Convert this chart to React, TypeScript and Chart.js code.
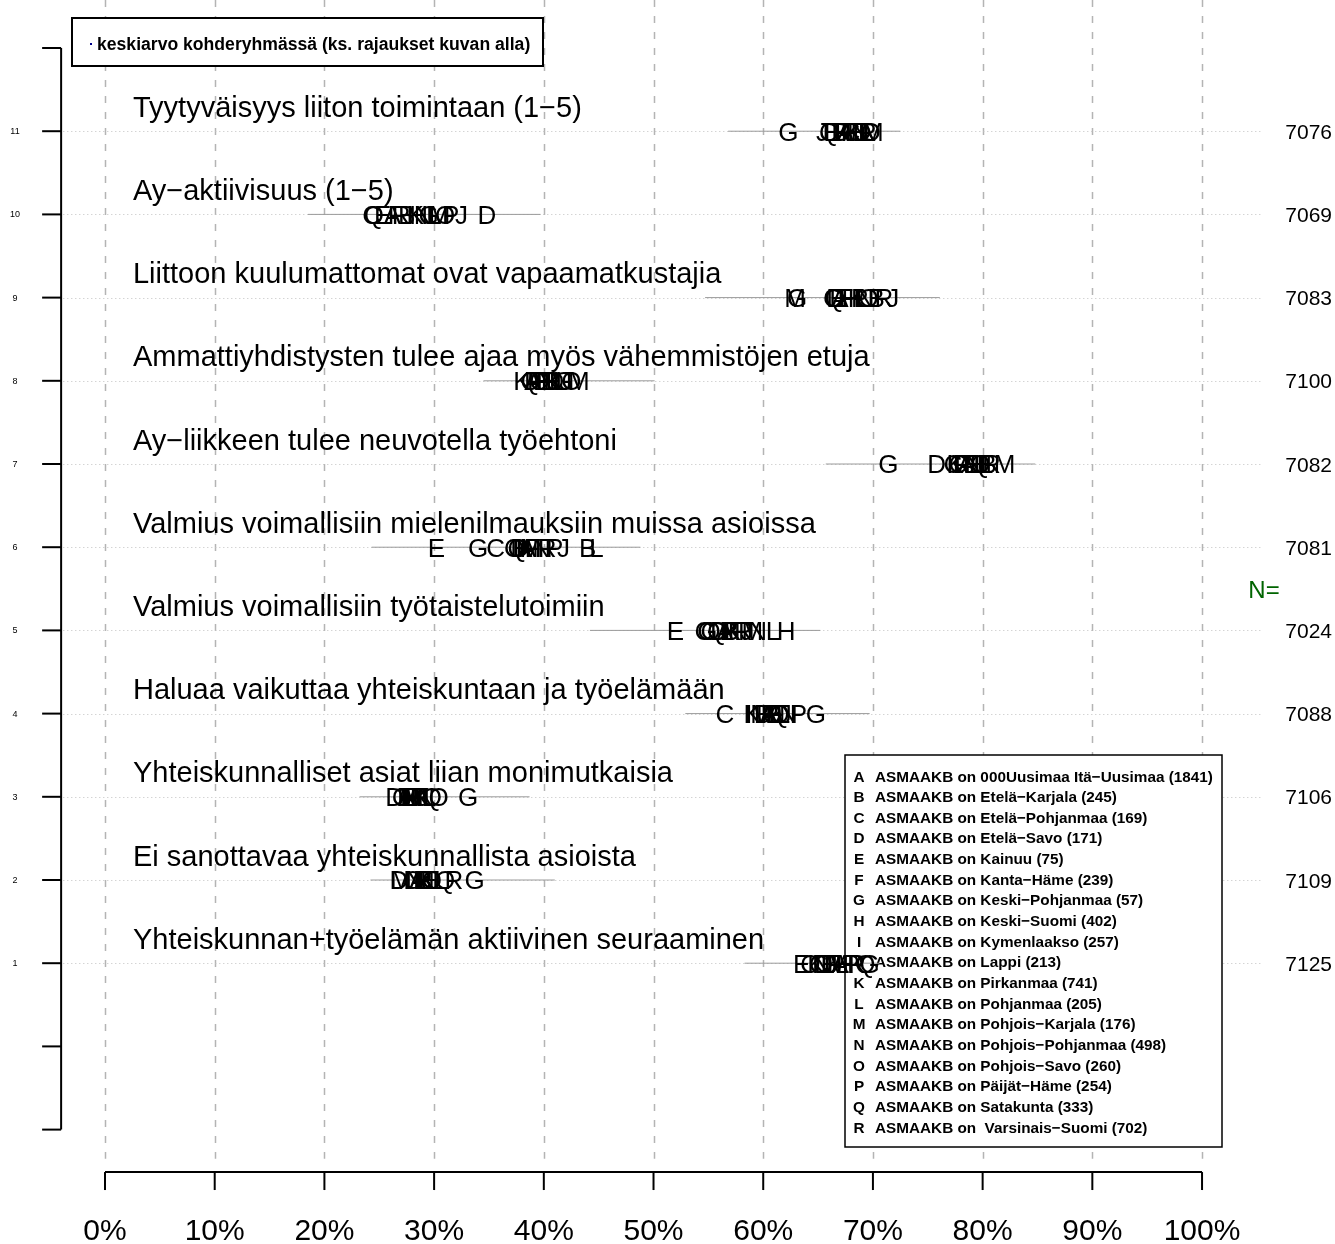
import React, { useEffect, useRef } from "react";
import { Chart, registerables } from "chart.js";
Chart.register(...registerables);

const groupLetters = ["A","B","C","D","E","F","G","H","I","J","K","L","M","N","O","P","Q","R"];
const groupNames = [
  "ASMAAKB on 000Uusimaa Itä−Uusimaa (1841)",
  "ASMAAKB on Etelä−Karjala (245)",
  "ASMAAKB on Etelä−Pohjanmaa (169)",
  "ASMAAKB on Etelä−Savo (171)",
  "ASMAAKB on Kainuu (75)",
  "ASMAAKB on Kanta−Häme (239)",
  "ASMAAKB on Keski−Pohjanmaa (57)",
  "ASMAAKB on Keski−Suomi (402)",
  "ASMAAKB on Kymenlaakso (257)",
  "ASMAAKB on Lappi (213)",
  "ASMAAKB on Pirkanmaa (741)",
  "ASMAAKB on Pohjanmaa (205)",
  "ASMAAKB on Pohjois−Karjala (176)",
  "ASMAAKB on Pohjois−Pohjanmaa (498)",
  "ASMAAKB on Pohjois−Savo (260)",
  "ASMAAKB on Päijät−Häme (254)",
  "ASMAAKB on Satakunta (333)",
  "ASMAAKB on  Varsinais−Suomi (702)",
];

// rows 1..11 (bottom to top)
const rowLabels = [
  "Yhteiskunnan+työelämän aktiivinen seuraaminen",
  "Ei sanottavaa yhteiskunnallista asioista",
  "Yhteiskunnalliset asiat liian monimutkaisia",
  "Haluaa vaikuttaa yhteiskuntaan ja työelämään",
  "Valmius voimallisiin työtaistelutoimiin",
  "Valmius voimallisiin mielenilmauksiin muissa asioissa",
  "Ay−liikkeen tulee neuvotella työehtoni",
  "Ammattiyhdistysten tulee ajaa myös vähemmistöjen etuja",
  "Liittoon kuulumattomat ovat vapaamatkustajia",
  "Ay−aktiivisuus (1−5)",
  "Tyytyväisyys liiton toimintaan (1−5)",
];
const rowN = [7125, 7109, 7106, 7088, 7024, 7081, 7082, 7100, 7083, 7069, 7076];

const rangeLow = [58.3, 24.2, 23.2, 52.9, 44.2, 24.3, 65.7, 34.5, 54.7, 18.5, 56.8];
const rangeHigh = [70.6, 41.0, 38.7, 69.7, 65.2, 48.8, 84.8, 50.1, 76.1, 39.7, 72.5];

// values per row, letters A..R
const row1 = [67.0, 66.0, 65.0, 65.5, 63.5, 66.5, 69.7, 67.5, 65.8, 66.2, 64.8, 67.2, 66.8, 65.3, 64.3, 68.0, 69.3, 68.5];
const row2 = [28.5, 29.0, 28.0, 26.8, 29.5, 28.8, 33.7, 29.2, 27.5, 30.0, 29.3, 30.5, 27.0, 28.2, 29.8, 29.0, 31.0, 31.8];
const row3 = [27.5, 28.0, 27.0, 26.4, 27.8, 28.5, 33.1, 28.2, 27.2, 29.0, 28.8, 29.5, 27.6, 29.2, 30.4, 28.6, 29.8, 28.0];
const row4 = [60.5, 61.0, 56.5, 60.0, 61.0, 61.2, 64.8, 60.2, 58.7, 62.0, 59.0, 61.8, 59.8, 62.3, 60.8, 63.2, 61.5, 60.6];
const row5 = [56.5, 57.0, 54.6, 56.0, 52.0, 57.5, 54.9, 62.1, 58.0, 58.5, 57.2, 60.9, 59.0, 59.5, 55.2, 56.8, 55.8, 58.2];
const row6 = [38.5, 44.0, 35.6, 37.8, 30.2, 39.0, 34.0, 38.0, 39.5, 41.8, 38.2, 44.8, 38.8, 39.8, 37.3, 41.0, 37.6, 40.3];
const row7 = [78.5, 80.5, 77.3, 75.8, 79.0, 78.0, 71.4, 80.0, 79.5, 78.8, 77.5, 80.3, 82.0, 79.2, 77.8, 78.2, 79.8, 80.8];
const row8 = [39.0, 40.5, 39.5, 41.0, 40.0, 39.2, 41.8, 40.8, 38.5, 42.0, 38.0, 41.5, 43.2, 40.2, 42.5, 39.8, 38.8, 40.6];
const row9 = [67.0, 70.3, 66.3, 66.6, 66.8, 67.5, 63.1, 68.0, 67.2, 71.8, 68.5, 69.0, 62.9, 69.3, 69.6, 68.8, 66.5, 71.0];
const row10 = [26.2, 27.5, 24.3, 34.8, 25.3, 26.5, 29.5, 28.6, 27.8, 32.5, 28.3, 30.0, 30.5, 29.0, 31.0, 31.5, 24.5, 27.0];
const row11 = [67.5, 67.0, 68.0, 69.0, 66.3, 67.8, 62.3, 68.5, 66.8, 65.4, 68.2, 69.3, 70.0, 68.8, 69.8, 67.2, 66.0, 69.5];
const rowValues = [row1, row2, row3, row4, row5, row6, row7, row8, row9, row10, row11];

const xTicks = [0, 10, 20, 30, 40, 50, 60, 70, 80, 90, 100];
const yTicks = [-1, 0, 1, 2, 3, 4, 5, 6, 7, 8, 9, 10, 11, 12];
const yTickLabels = ["", "", "1", "2", "3", "4", "5", "6", "7", "8", "9", "10", "11", ""];

const FONT = '"Liberation Sans", Arial, Helvetica, sans-serif';

export default function App() {
  const ref = useRef<HTMLCanvasElement>(null);
  useEffect(() => {
    const canvas = ref.current!;
    const rangeSets = rowValues.map((_, r) => ({
      type: "line" as const,
      data: [{ x: rangeLow[r], y: r + 1 }, { x: rangeHigh[r], y: r + 1 }],
      borderColor: "#9a9a9a",
      borderWidth: 1,
      pointRadius: 0,
      showLine: true,
      fill: false,
    }));
    const letterSets = groupLetters.map((g, gi) => ({
      type: "scatter" as const,
      label: g,
      data: rowValues.map((row, r) => ({ x: row[gi], y: r + 1 })),
      pointRadius: 0,
      showLine: false,
    }));

    const plugin = {
      id: "rstyle",
      beforeDatasetsDraw(chart: any) {
        const ctx = chart.ctx as CanvasRenderingContext2D;
        const xs = chart.scales.x;
        const ys = chart.scales.y;
        ctx.save();
        ctx.fillStyle = "#fff";
        ctx.fillRect(0, 0, chart.width, chart.height);
        // vertical dashed grid
        ctx.strokeStyle = "#b4b4b4";
        ctx.lineWidth = 1.5;
        ctx.setLineDash([7, 9]);
        for (const t of xTicks) {
          const px = Math.round(xs.getPixelForValue(t)) + 0.5;
          ctx.beginPath();
          ctx.moveTo(px, 0);
          ctx.lineTo(px, ys.getPixelForValue(-1.35));
          ctx.stroke();
        }
        // horizontal dotted row lines
        ctx.strokeStyle = "#c0c0c0";
        ctx.lineWidth = 1;
        ctx.setLineDash([1, 3]);
        for (let r = 1; r <= 11; r++) {
          const py = Math.round(ys.getPixelForValue(r)) + 0.5;
          ctx.beginPath();
          ctx.moveTo(xs.getPixelForValue(-3.8), py);
          ctx.lineTo(xs.getPixelForValue(105.5), py);
          ctx.stroke();
        }
        ctx.setLineDash([]);
        // y axis
        ctx.strokeStyle = "#000";
        ctx.lineWidth = 2;
        const ax = xs.getPixelForValue(-4);
        ctx.beginPath();
        ctx.moveTo(ax, ys.getPixelForValue(12));
        ctx.lineTo(ax, ys.getPixelForValue(-1));
        ctx.stroke();
        ctx.fillStyle = "#000";
        ctx.font = `9px ${FONT}`;
        ctx.textAlign = "center";
        ctx.textBaseline = "alphabetic";
        yTicks.forEach((t, i) => {
          const py = ys.getPixelForValue(t);
          ctx.beginPath();
          ctx.moveTo(ax, py);
          ctx.lineTo(ax - 19, py);
          ctx.stroke();
          if (yTickLabels[i]) ctx.fillText(yTickLabels[i], 15, py + 3);
        });
        // x axis
        const ay = ys.getPixelForValue(-1.51);
        ctx.beginPath();
        ctx.moveTo(xs.getPixelForValue(0), ay);
        ctx.lineTo(xs.getPixelForValue(100), ay);
        ctx.stroke();
        ctx.font = `30px ${FONT}`;
        for (const t of xTicks) {
          const px = xs.getPixelForValue(t);
          ctx.beginPath();
          ctx.moveTo(px, ay);
          ctx.lineTo(px, ay + 18);
          ctx.stroke();
          ctx.fillText(`${t}%`, px, ay + 68);
        }
        // row titles and N
        ctx.textAlign = "left";
        ctx.font = `29px ${FONT}`;
        rowLabels.forEach((lab, r) => {
          ctx.fillText(lab, xs.getPixelForValue(2.55), ys.getPixelForValue(r + 1) - 14.5);
        });
        ctx.textAlign = "right";
        ctx.font = `21px ${FONT}`;
        rowN.forEach((n, r) => {
          ctx.fillText(String(n), 1332, ys.getPixelForValue(r + 1) + 7.5);
        });
        ctx.fillStyle = "#006400";
        ctx.font = `24px ${FONT}`;
        ctx.textAlign = "center";
        ctx.fillText("N=", 1264, ys.getPixelForValue(5.5) + 9);
        // top-left legend
        ctx.fillStyle = "#fff";
        ctx.fillRect(72, 18, 471, 48);
        ctx.strokeStyle = "#000";
        ctx.lineWidth = 2;
        ctx.strokeRect(72, 18, 471, 48);
        ctx.fillStyle = "#00008b";
        ctx.fillRect(90, 43, 2, 2);
        ctx.fillStyle = "#000";
        ctx.textAlign = "left";
        ctx.font = `bold 17.6px ${FONT}`;
        ctx.fillText("keskiarvo kohderyhmässä (ks. rajaukset kuvan alla)", 97, 50);
        // right legend
        ctx.fillStyle = "#fff";
        ctx.fillRect(845, 755, 377, 392);
        ctx.lineWidth = 1.5;
        ctx.strokeRect(845, 755, 377, 392);
        ctx.fillStyle = "#000";
        ctx.font = `bold 15.3px ${FONT}`;
        groupLetters.forEach((g, i) => {
          const cy = 776 + i * 20.65;
          ctx.textAlign = "center";
          ctx.fillText(g, 859, cy + 5.5);
          ctx.textAlign = "left";
          ctx.fillText(groupNames[i], 875, cy + 5.5);
        });
        ctx.restore();
      },
      afterDatasetsDraw(chart: any) {
        const ctx = chart.ctx as CanvasRenderingContext2D;
        ctx.save();
        ctx.fillStyle = "#000";
        ctx.font = `26px ${FONT}`;
        ctx.textAlign = "center";
        ctx.textBaseline = "alphabetic";
        chart.data.datasets.forEach((ds: any, di: number) => {
          if (!ds.label) return;
          const meta = chart.getDatasetMeta(di);
          meta.data.forEach((el: any) => {
            ctx.fillText(ds.label, el.x, el.y + 9.3);
          });
        });
        ctx.restore();
      },
    };

    const chart = new Chart(canvas, {
      type: "scatter",
      data: { datasets: [...rangeSets, ...letterSets] as any },
      options: {
        responsive: false,
        animation: false,
        devicePixelRatio: 1,
        layout: { padding: 0 },
        plugins: { legend: { display: false }, tooltip: { enabled: false } },
        scales: {
          x: { type: "linear", min: -9.5716, max: 112.12, display: false },
          y: { type: "linear", min: -2.375, max: 12.577, display: false },
        },
      },
      plugins: [plugin],
    });
    return () => chart.destroy();
  }, []);
  return (
    <div style={{ position: "absolute", left: 0, top: 0 }}>
      <canvas ref={ref} width={1335} height={1244} style={{ display: "block", width: 1335, height: 1244 }} />
    </div>
  );
}
